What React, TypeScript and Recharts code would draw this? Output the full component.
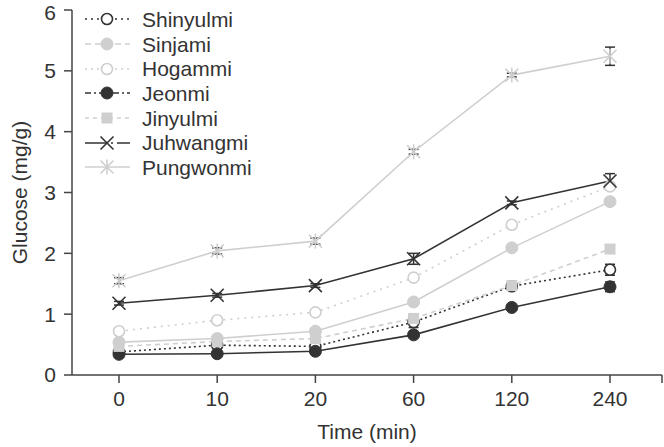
import React from 'react';
import { LineChart, Line, XAxis, YAxis, ErrorBar } from 'recharts';

const times = ['0', '10', '20', '60', '120', '240'];

const shinyulmi = [0.38, 0.49, 0.47, 0.87, 1.46, 1.73];
const shinyulmiErr = [0.03, 0.03, 0.03, 0.09, 0.03, 0.09];
const sinjami = [0.54, 0.6, 0.72, 1.2, 2.09, 2.85];
const sinjamiErr = [0.03, 0.03, 0.03, 0.03, 0.03, 0.05];
const hogammi = [0.72, 0.9, 1.03, 1.6, 2.47, 3.1];
const hogammiErr = [0.03, 0.03, 0.03, 0.03, 0.03, 0.05];
const jeonmi = [0.34, 0.35, 0.39, 0.66, 1.11, 1.45];
const jeonmiErr = [0.03, 0.03, 0.03, 0.03, 0.03, 0.08];
const jinyulmi = [0.47, 0.55, 0.6, 0.93, 1.47, 2.07];
const jinyulmiErr = [0.03, 0.03, 0.03, 0.03, 0.03, 0.04];
const juhwangmi = [1.18, 1.31, 1.47, 1.91, 2.83, 3.19];
const juhwangmiErr = [0.03, 0.03, 0.03, 0.09, 0.03, 0.12];
const pungwonmi = [1.55, 2.04, 2.2, 3.67, 4.93, 5.24];
const pungwonmiErr = [0.05, 0.05, 0.05, 0.04, 0.03, 0.15];

const yTicks = [0, 1, 2, 3, 4, 5, 6];

const DARK = '#333333';
const LIGHT = '#cfcfcf';
const FONT = '"Liberation Sans", Arial, sans-serif';
const FS = 21;
const PAD_LEFT = 47;
const PAD_RIGHT = 52;

type Shape = 'circle' | 'square' | 'x' | 'asterisk';

const series = [
  { key: 'Shinyulmi', values: shinyulmi, err: shinyulmiErr, color: DARK, dash: '2 3', legendDash: '2 4', shape: 'circle' as Shape, filled: false },
  { key: 'Sinjami', values: sinjami, err: sinjamiErr, color: LIGHT, dash: undefined, legendDash: '6 4', shape: 'circle' as Shape, filled: true },
  { key: 'Hogammi', values: hogammi, err: hogammiErr, color: LIGHT, dash: '2 5', legendDash: '2 4', shape: 'circle' as Shape, filled: false },
  { key: 'Jeonmi', values: jeonmi, err: jeonmiErr, color: DARK, dash: undefined, legendDash: '6 3 2 3', shape: 'circle' as Shape, filled: true },
  { key: 'Jinyulmi', values: jinyulmi, err: jinyulmiErr, color: LIGHT, dash: '5 4', legendDash: '4 4', shape: 'square' as Shape, filled: true },
  { key: 'Juhwangmi', values: juhwangmi, err: juhwangmiErr, color: DARK, dash: undefined, legendDash: '22 4 2 4', shape: 'x' as Shape, filled: false },
  { key: 'Pungwonmi', values: pungwonmi, err: pungwonmiErr, color: LIGHT, dash: undefined, legendDash: undefined, shape: 'asterisk' as Shape, filled: false },
];

const data = times.map((t, i) => {
  const row: Record<string, string | number> = { time: t };
  series.forEach((s) => {
    row[s.key] = s.values[i];
    row[s.key + 'Err'] = s.err[i];
  });
  return row;
});

function Marker({ cx, cy, shape, color, filled }: { cx: number; cy: number; shape: Shape; color: string; filled: boolean }) {
  if (cx == null || cy == null) return null;
  if (shape === 'circle') {
    return filled ? (
      <circle cx={cx} cy={cy} r={6} fill={color} stroke={color} strokeWidth={1} />
    ) : (
      <circle cx={cx} cy={cy} r={5.5} fill="#fff" stroke={color} strokeWidth={1.6} />
    );
  }
  if (shape === 'square') {
    return <rect x={cx - 5.5} y={cy - 5.5} width={11} height={11} fill={color} />;
  }
  const d = 6.5;
  if (shape === 'x') {
    return (
      <g stroke={color} strokeWidth={1.6}>
        <line x1={cx - d} y1={cy - d} x2={cx + d} y2={cy + d} />
        <line x1={cx - d} y1={cy + d} x2={cx + d} y2={cy - d} />
      </g>
    );
  }
  return (
    <g stroke={color} strokeWidth={1.6}>
      <line x1={cx - d} y1={cy - d} x2={cx + d} y2={cy + d} />
      <line x1={cx - d} y1={cy + d} x2={cx + d} y2={cy - d} />
      <line x1={cx} y1={cy - d - 1} x2={cx} y2={cy + d + 1} />
    </g>
  );
}

// x tick label; the last one also closes the axis with a tick at its right end
const TimeTick = (props: any) => {
  const { x, y, payload, index, visibleTicksCount } = props;
  const axisY = y - 16;
  return (
    <g>
      <text x={x} y={y} dy="0.71em" textAnchor="middle" fill={DARK} fontSize={FS} fontFamily={FONT}>
        {payload.value}
      </text>
      {index === visibleTicksCount - 1 && (
        <line x1={x + PAD_RIGHT} y1={axisY} x2={x + PAD_RIGHT} y2={axisY + 8} stroke="#444" strokeWidth={1.5} />
      )}
    </g>
  );
};

// legend drawn as a plain overlay so it doesn't push the plot area around
const LegendBox = () => (
  <div style={{ position: 'absolute', left: 84, top: 7, fontFamily: FONT, fontSize: FS, color: DARK, lineHeight: 1 }}>
    {series.map((s) => (
      <div key={s.key} style={{ display: 'flex', alignItems: 'center', height: 24.7 }}>
        <svg width={52} height={24} style={{ marginRight: 6 }}>
          <line x1={1} y1={12} x2={46} y2={12} stroke={s.color} strokeWidth={1.6} strokeDasharray={s.legendDash} />
          <Marker cx={23} cy={12} shape={s.shape} color={s.color} filled={s.filled} />
        </svg>
        <span>{s.key}</span>
      </div>
    ))}
  </div>
);

export default function App() {
  return (
    <div style={{ position: 'absolute', left: 0, top: 0, width: 664, height: 447, background: '#fff' }}>
      <LineChart width={664} height={447} data={data} margin={{ top: 10, right: 2, bottom: 0, left: 0 }}>
        <XAxis
          dataKey="time"
          scale="point"
          padding={{ left: PAD_LEFT, right: PAD_RIGHT }}
          height={72}
          tickSize={8}
          tickMargin={8}
          stroke="#444"
          strokeWidth={1.5}
          tick={<TimeTick />}
          label={{ value: 'Time (min)', position: 'insideBottom', offset: 8, fill: DARK, fontSize: FS, fontFamily: FONT }}
        />
        <YAxis
          domain={[0, 6]}
          ticks={yTicks}
          width={72}
          tickSize={8}
          tickMargin={8}
          stroke="#444"
          strokeWidth={1.5}
          tick={{ fill: DARK, fontSize: FS, fontFamily: FONT }}
          label={{ value: 'Glucose (mg/g)', angle: -90, position: 'insideLeft', offset: 20, fill: DARK, fontSize: FS, fontFamily: FONT, style: { textAnchor: 'middle' } }}
        />
        {series.map((s) => (
          <Line
            key={s.key}
            dataKey={s.key}
            stroke={s.color}
            strokeWidth={1.6}
            strokeDasharray={s.dash}
            isAnimationActive={false}
            dot={(p: any) => (
              <Marker key={`${s.key}-${p.index}`} cx={p.cx} cy={p.cy} shape={s.shape} color={s.color} filled={s.filled} />
            )}
            activeDot={false}
          >
            <ErrorBar dataKey={s.key + 'Err'} width={5} stroke={DARK} strokeWidth={1.5} direction="y" />
          </Line>
        ))}
      </LineChart>
      <LegendBox />
    </div>
  );
}
